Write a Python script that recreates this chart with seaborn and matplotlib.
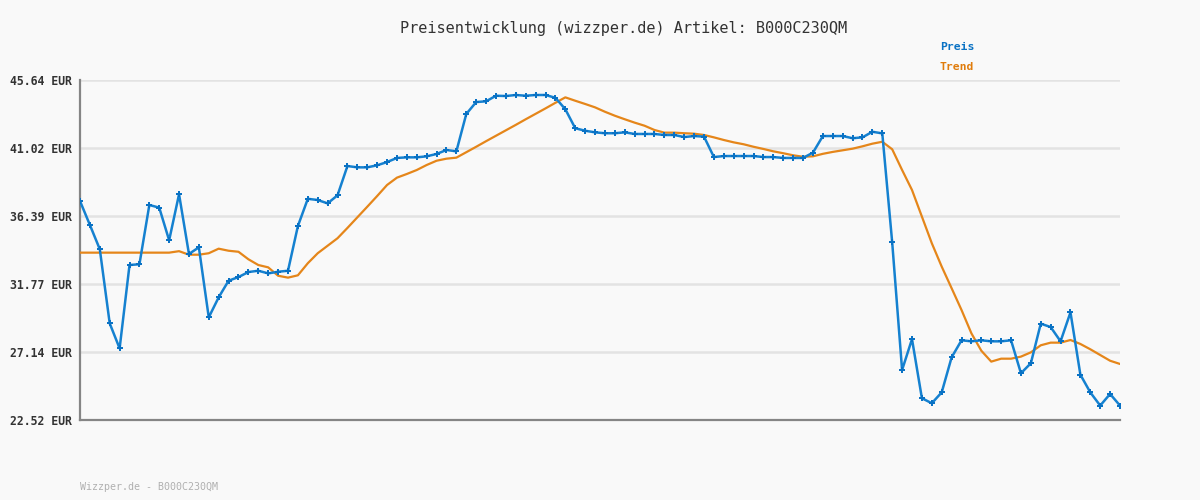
import numpy as np
import pandas as pd
import matplotlib
matplotlib.use('Agg')
import matplotlib.pyplot as plt
import seaborn as sns

preis = [
    37.41, 35.78, 34.13, 29.09, 27.39, 33.06, 33.11, 37.14, 36.96, 34.74,
    37.87, 33.81, 34.26, 29.50, 30.86, 31.99, 32.24, 32.58, 32.67, 32.49,
    32.60, 32.67, 35.71, 37.56, 37.48, 37.25, 37.80, 39.79, 39.70, 39.70,
    39.84, 40.06, 40.34, 40.38, 40.38, 40.45, 40.61, 40.88, 40.79, 43.33,
    44.14, 44.19, 44.57, 44.55, 44.62, 44.57, 44.62, 44.62, 44.43, 43.65,
    42.36, 42.19, 42.08, 42.02, 42.02, 42.08, 41.97, 41.97, 41.97, 41.90,
    41.90, 41.76, 41.83, 41.79, 40.40, 40.47, 40.47, 40.47, 40.47, 40.40,
    40.40, 40.34, 40.34, 40.34, 40.70, 41.83, 41.83, 41.83, 41.68, 41.74,
    42.12, 42.01, 34.60, 25.92, 28.02, 24.00, 23.66, 24.40, 26.78, 27.94,
    27.87, 27.94, 27.87, 27.87, 27.94, 25.70, 26.38, 29.07, 28.84, 27.87,
    29.84, 25.60, 24.40, 23.50, 24.29, 23.50,
]
trend = [
    33.90, 33.90, 33.90, 33.90, 33.90, 33.90, 33.90, 33.90, 33.90, 33.90,
    34.00, 33.76, 33.76, 33.86, 34.17, 34.03, 33.96, 33.45, 33.06, 32.90,
    32.33, 32.20, 32.36, 33.18, 33.86, 34.37, 34.88, 35.58, 36.30, 37.02,
    37.75, 38.50, 39.00, 39.25, 39.52, 39.86, 40.15, 40.29, 40.36, 40.73,
    41.10, 41.48, 41.85, 42.22, 42.59, 42.97, 43.34, 43.71, 44.09, 44.46,
    44.23, 44.01, 43.78, 43.48, 43.21, 42.97, 42.74, 42.53, 42.24, 42.06,
    42.06, 42.02, 41.99, 41.90, 41.74, 41.56, 41.40, 41.27, 41.10, 40.95,
    40.79, 40.66, 40.52, 40.42, 40.45, 40.62, 40.75, 40.86, 40.97, 41.13,
    41.31, 41.44, 40.93, 39.52, 38.16, 36.35, 34.54, 32.95, 31.48, 30.00,
    28.41, 27.23, 26.49, 26.69, 26.69, 26.83, 27.12, 27.60, 27.78, 27.78,
    27.96, 27.69, 27.33, 26.94, 26.55, 26.33,
]
y_ticks = [22.52, 27.144, 31.768, 36.392, 41.016, 45.64]
y_labels = ['22.52 EUR', '27.14 EUR', '31.77 EUR', '36.39 EUR', '41.02 EUR', '45.64 EUR']

BG = '#f9f9f9'
BLUE = '#1581d0'
ORANGE = '#e5861a'
MONO = ['DejaVu Sans Mono']

df = pd.DataFrame({'idx': np.arange(len(preis)), 'Preis': preis, 'Trend': trend})

sns.set_style('white')
plt.rcParams['font.family'] = MONO

fig = plt.figure(figsize=(12, 5), dpi=100, facecolor=BG)
ax = fig.add_axes([80 / 1200, 80 / 500, 1040 / 1200, 340 / 500])
ax.set_facecolor(BG)

sns.lineplot(data=df, x='idx', y='Trend', ax=ax, color=ORANGE, linewidth=1.6, zorder=3)
sns.lineplot(data=df, x='idx', y='Preis', ax=ax, color=BLUE, linewidth=1.8,
             marker='P', markersize=4.5, markeredgewidth=0, markerfacecolor='#0a72c4', zorder=4)

ax.set_xlim(0, len(preis) - 1)
ax.set_ylim(y_ticks[0], y_ticks[-1])
ax.set_yticks(y_ticks)
ax.set_yticklabels(y_labels, fontsize=8.3, fontweight='bold', color='#333333', family=MONO)
ax.set_xticks([])
ax.set_xlabel('')
ax.set_ylabel('')
ax.tick_params(axis='y', length=0, pad=5.5)
for t in y_ticks[1:]:
    ax.axhline(t, color='#e3e3e3', linewidth=1.8, zorder=1)

for s in ['top', 'right']:
    ax.spines[s].set_visible(False)
ax.spines['left'].set_color('#858585')
ax.spines['left'].set_linewidth(1.6)
ax.spines['bottom'].set_color('#858585')
ax.spines['bottom'].set_linewidth(1.6)

fig.text(0.52, 1 - 28 / 500, 'Preisentwicklung (wizzper.de) Artikel: B000C230QM',
         ha='center', va='center', fontsize=11, color='#333333', family=MONO)
fig.text(940 / 1200, 1 - 47 / 500, 'Preis', ha='left', va='center',
         fontsize=8.2, fontweight='bold', color='#0a72c4', family=MONO)
fig.text(940 / 1200, 1 - 67 / 500, 'Trend', ha='left', va='center',
         fontsize=8.2, fontweight='bold', color='#e07c0c', family=MONO)
fig.text(80 / 1200, 1 - 487 / 500, 'Wizzper.de - B000C230QM', ha='left', va='center',
         fontsize=7.2, color='#b0b0b0', family=MONO)

fig.savefig('out.png', dpi=100, facecolor=BG)
plt.close(fig)
